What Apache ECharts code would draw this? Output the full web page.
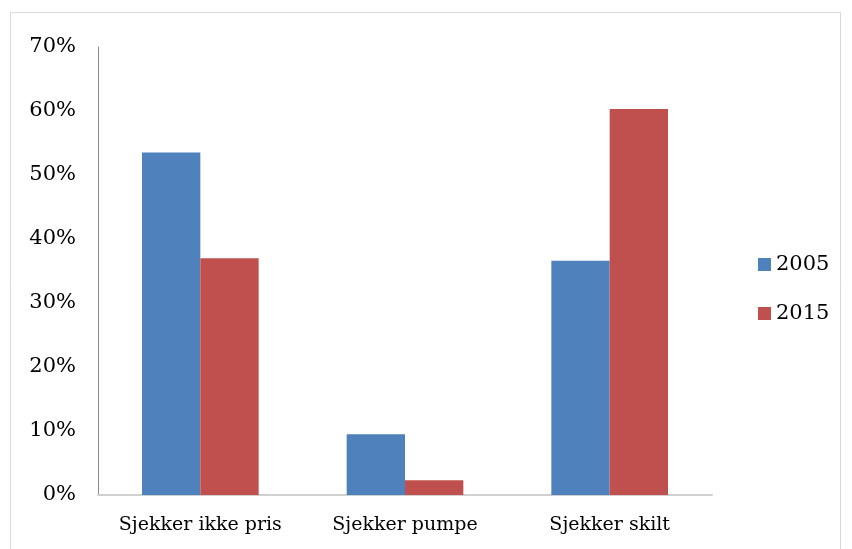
<!DOCTYPE html>
<html>
<head>
<meta charset="utf-8">
<script src="https://cdn.jsdelivr.net/npm/echarts@6/dist/echarts.min.js"></script>
<style>
html,body{margin:0;padding:0;background:#fff;}
#c{width:852px;height:549px;}
</style>
</head>
<body>
<div id="c"></div>
<script>
var categories = ['Sjekker ikke pris', 'Sjekker pumpe', 'Sjekker skilt'];
var seriesNames = ['2005', '2015'];
var values2005 = [53.5, 9.5, 36.6];
var values2015 = [37.0, 2.3, 60.3];
var yTicks = [0, 10, 20, 30, 40, 50, 60, 70];

var font = '"DejaVu Serif", "Liberation Serif", serif';
var chart = echarts.init(document.getElementById('c'));
chart.setOption({
  animation: false,
  backgroundColor: '#ffffff',
  graphic: [{
    type: 'rect',
    shape: {x: 10.5, y: 12.5, width: 830, height: 545},
    style: {fill: 'none', stroke: '#d9d9d9', lineWidth: 1}
  }],
  grid: {left: 98, right: 140, top: 47, bottom: 54},
  legend: {
    orient: 'vertical',
    left: 753,
    top: 249,
    itemWidth: 13,
    itemHeight: 13,
    itemGap: 28,
    icon: 'rect',
    textStyle: {fontFamily: font, fontSize: 21, color: '#000'},
    data: seriesNames
  },
  xAxis: {
    type: 'category',
    data: categories,
    axisLine: {show: true, lineStyle: {color: '#d0d0d0', width: 2}},
    axisTick: {show: false},
    axisLabel: {fontFamily: font, fontSize: 19, color: '#000', margin: 21, interval: 0}
  },
  yAxis: {
    type: 'value',
    min: yTicks[0],
    max: yTicks[yTicks.length - 1],
    interval: 10,
    splitLine: {show: false},
    axisLine: {show: true, lineStyle: {color: '#8c8c8c', width: 1}},
    axisTick: {show: false},
    axisLabel: {fontFamily: font, fontSize: 21, color: '#000', margin: 22, formatter: '{value}%', padding: [3, 0, 0, 0]}
  },
  series: [
    {name: seriesNames[0], type: 'bar', data: values2005, barGap: '0%', barCategoryGap: '43%',
     itemStyle: {color: '#4F81BD'}},
    {name: seriesNames[1], type: 'bar', data: values2015, barGap: '0%', barCategoryGap: '43%',
     itemStyle: {color: '#C0504D'}}
  ]
});
</script>
</body>
</html>
